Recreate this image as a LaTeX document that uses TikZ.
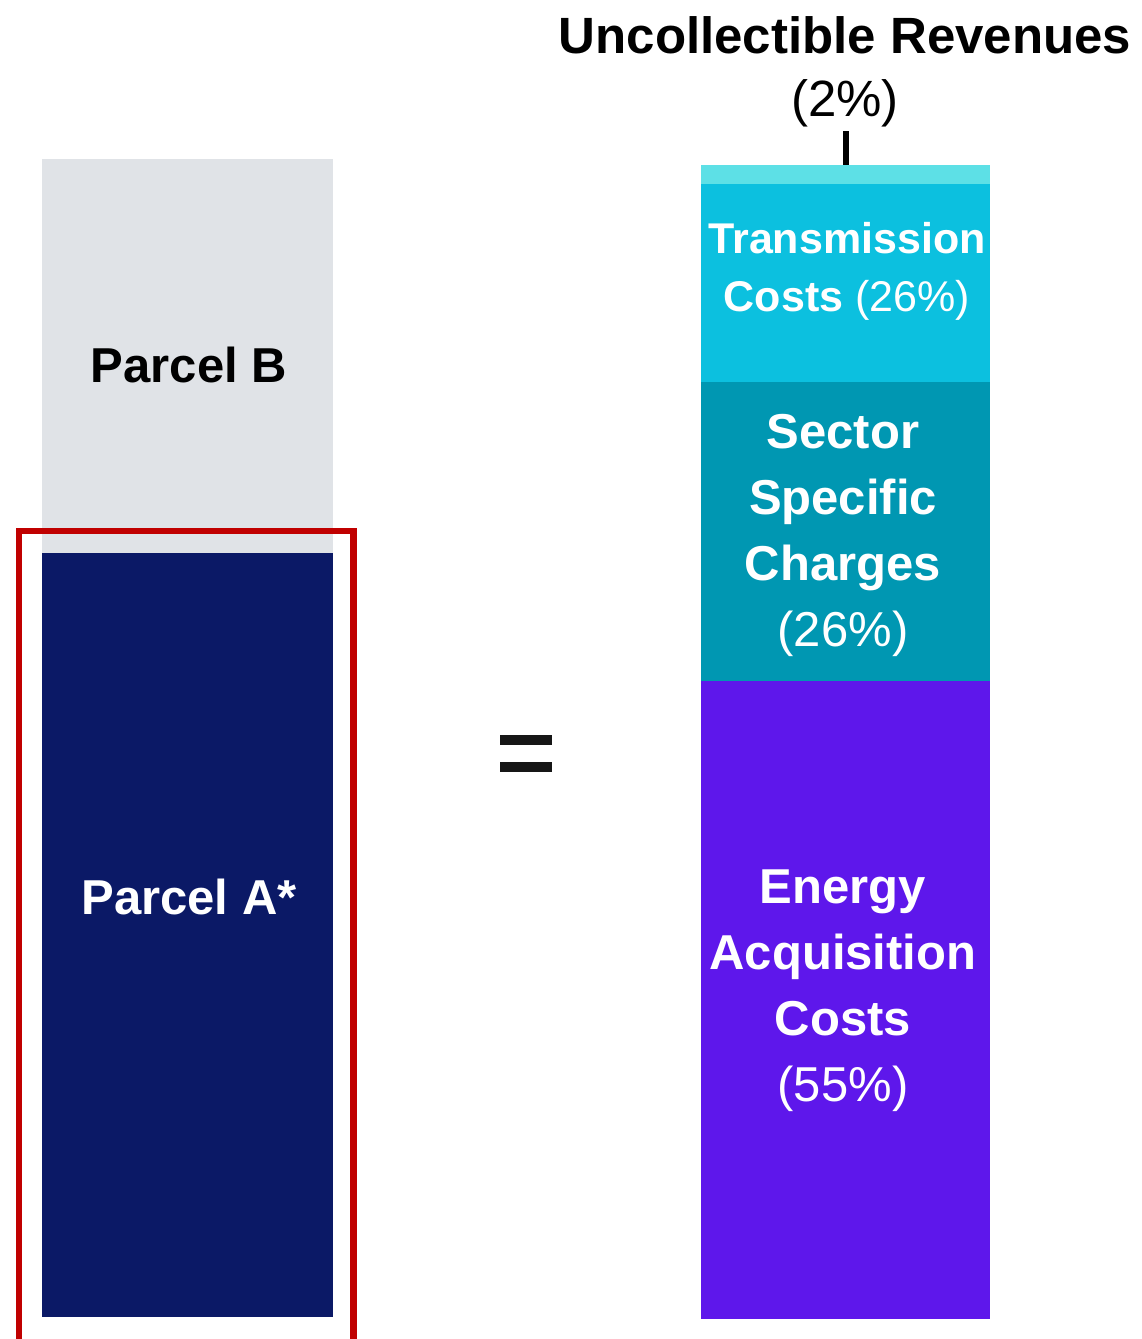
\documentclass[tikz,border=0pt]{standalone}
\usepackage{fontspec}
\setmainfont{Liberation Sans}
\definecolor{parcelB}{HTML}{E0E3E7}
\definecolor{parcelA}{HTML}{0B1966}
\definecolor{frameRed}{HTML}{C00000}
\definecolor{uncoll}{HTML}{5DE0E6}
\definecolor{trans}{HTML}{0CC0DF}
\definecolor{sector}{HTML}{0097B2}
\definecolor{energy}{HTML}{5E17EB}
\definecolor{ink}{HTML}{161616}
\begin{document}
\begin{tikzpicture}[x=1pt,y=-1pt,
  bar/.style={draw=none,inner sep=0pt,outer sep=0pt,anchor=north west},
  lbl/.style={align=center,inner sep=0pt,font=\fontsize{49}{66}\selectfont\bfseries}]
\useasboundingbox (0,0) rectangle (1141,1339);
% left column
\node[bar,fill=parcelB,minimum width=291pt,minimum height=394pt] (pb) at (42,159) {};
\node[bar,fill=parcelA,minimum width=291pt,minimum height=764pt] (pa) at (42,553) {};
\node[lbl,text=black] (pbt) at (189,365) {Parcel B};
\node[lbl,text=white] (pat) at (189,897) {Parcel A*};
% highlight frame around Parcel A
\draw[frameRed,line width=6.5pt] (19,1360) |- (353.5,531) -- (353.5,1360);
% equals sign
\node[bar,fill=ink,minimum width=52pt,minimum height=10pt] (eq1) at (500,735) {};
\node[bar,fill=ink,minimum width=52pt,minimum height=10pt] (eq2) at (500,762) {};
% right column
\node[bar,fill=uncoll,minimum width=289pt,minimum height=19pt] (uc) at (701,165) {};
\node[bar,fill=trans,minimum width=289pt,minimum height=198pt] (tc) at (701,184) {};
\node[bar,fill=sector,minimum width=289pt,minimum height=299pt] (sc) at (701,382) {};
\node[bar,fill=energy,minimum width=289pt,minimum height=638pt] (ec) at (701,681) {};
\node[lbl,text=white,font=\fontsize{43}{58}\selectfont\bfseries] (tct) at (847,271) {Transmission\\Costs {\mdseries(26\%)}};
\node[lbl,text=white] (sct) at (843,535) {Sector\\Specific\\Charges\\{\mdseries(26\%)}};
\node[lbl,text=white] (ect) at (843,991) {Energy\\Acquisition\\Costs\\{\mdseries(55\%)}};
\node[lbl,text=black,font=\fontsize{51}{63}\selectfont\bfseries] (uct) at (845,72) {Uncollectible Revenues\\{\mdseries(2\%)}};
\draw[black,line width=6pt] (uct.south -| uc.north) ++(0,4) coordinate (tk) -- (uc.north);
\end{tikzpicture}
\end{document}
